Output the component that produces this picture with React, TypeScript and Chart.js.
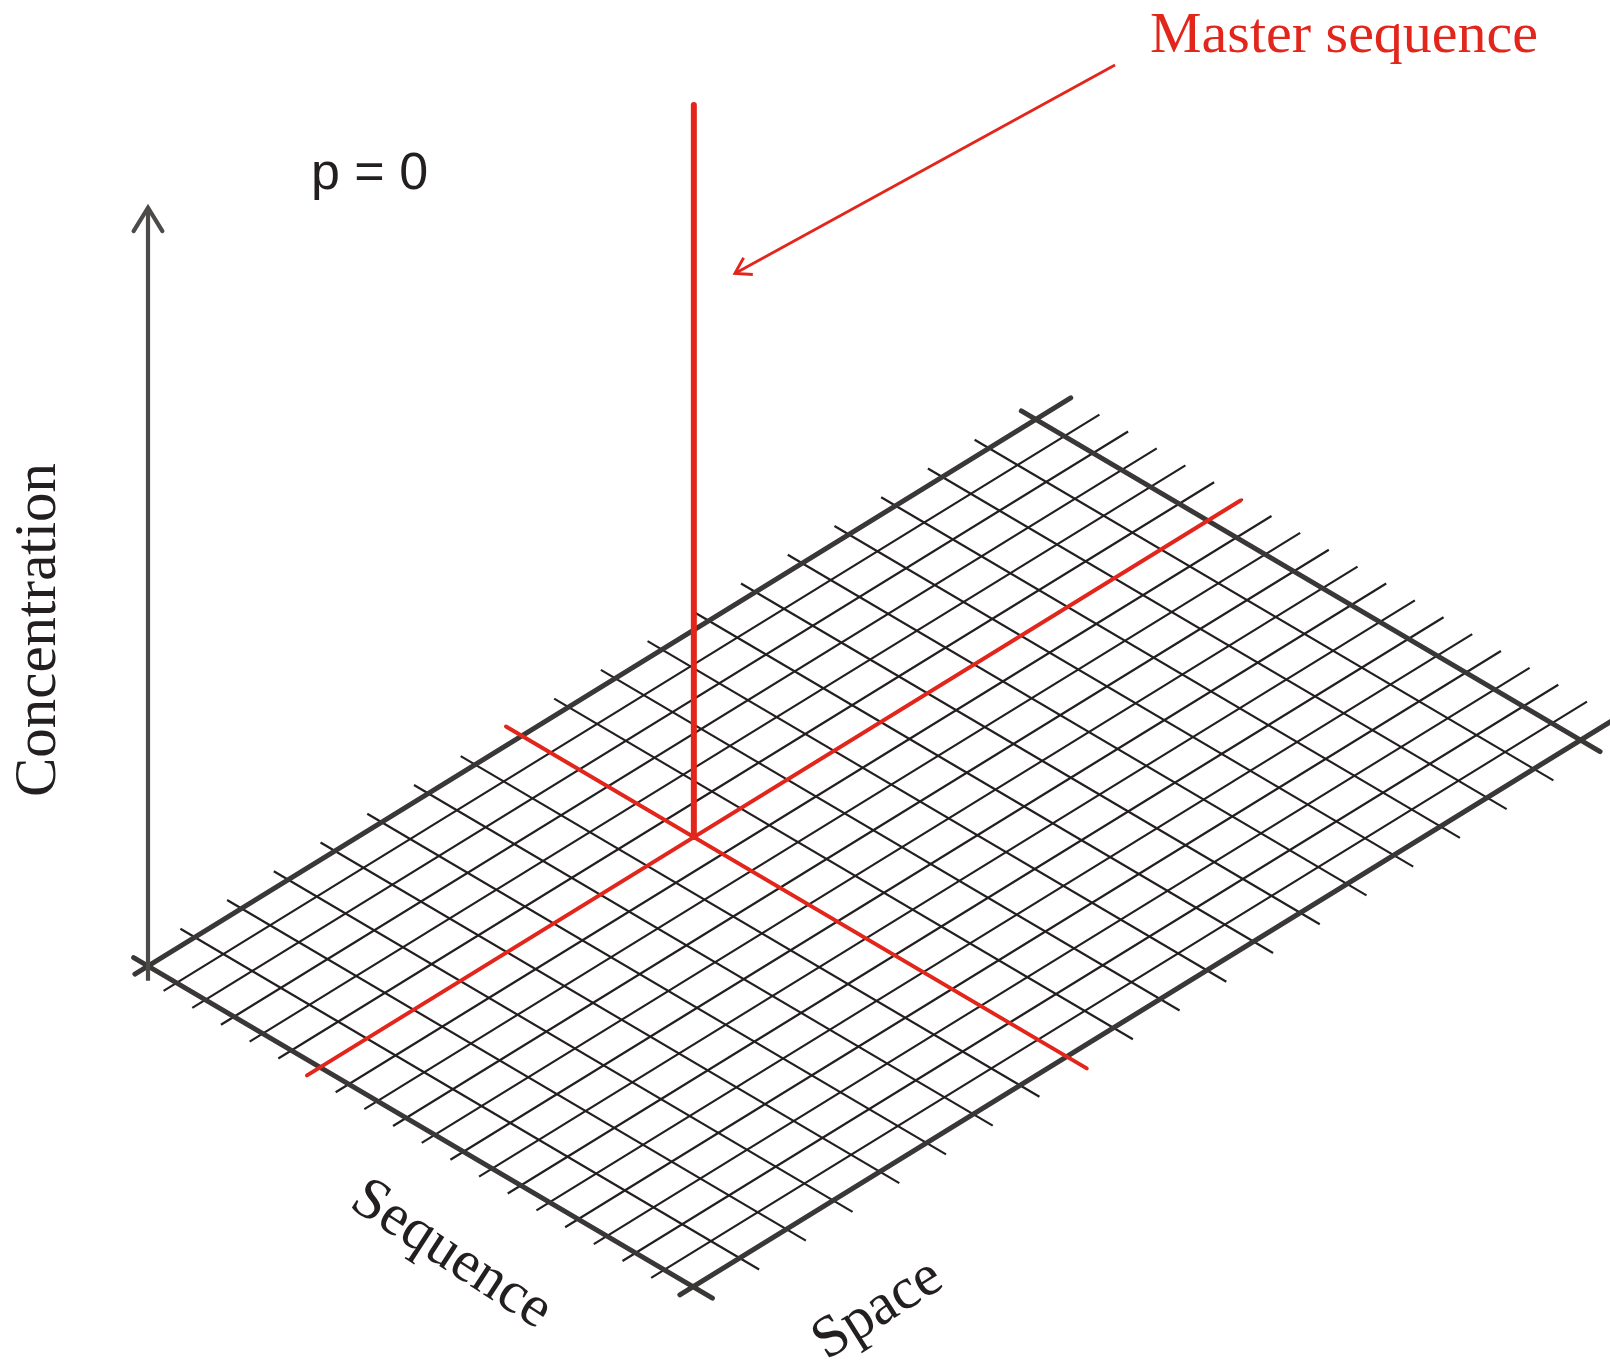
import React, { useEffect, useRef } from "react";
import { Chart, registerables } from "chart.js";

Chart.register(...registerables);

// ---------------- data ----------------
const sequenceIndex = [0, 1, 2, 3, 4, 5, 6, 7, 8, 9, 10, 11, 12, 13, 14, 15, 16, 17, 18, 19];
const spaceIndex = [0, 1, 2, 3, 4, 5, 6, 7, 8, 9, 10, 11, 12, 13, 14, 15, 16, 17, 18, 19];
const masterSequence = [6];
const masterSpace = [8];
const masterConcentration = [1.0];
const concentrationAxis = [-0.02, 1.036];
const mutationRate = ["p = 0"];
const axisTitles = ["Sequence", "Space", "Concentration"];
const calloutText = ["Master sequence"];

// ---------------- layout / projection (pixel space) ----------------
const W = 1610;
const H = 1362;
const ORIGIN = { x: 148, y: 966 };
const U = { x: 28.68, y: 16.88 }; // one sequence step
const V = { x: 46.72, y: -28.77 }; // one space step
const ZPX = 732; // pixels per unit concentration
const SEQ_EXT = [-0.5, 0.68];
const SPACE_EXT = [-0.28, 0.75];

const RED = "#e2261c";
const INK = "#231f20";
const EDGE = "#3a3737";
const AXIS = "#4d4a4a";

function project(s: number, t: number, z: number) {
  return {
    x: ORIGIN.x + s * U.x + t * V.x,
    y: ORIGIN.y + s * U.y + t * V.y - z * ZPX,
  };
}

function seg(points: { x: number; y: number }[], color: string, width: number, order: number, cap = "butt") {
  return {
    type: "line" as const,
    data: points,
    borderColor: color,
    backgroundColor: color,
    borderWidth: width,
    borderCapStyle: cap,
    borderJoinStyle: "miter",
    pointRadius: 0,
    pointHoverRadius: 0,
    showLine: true,
    fill: false,
    tension: 0,
    order,
    clip: false,
  };
}

function arrowHead(tip: { x: number; y: number }, from: { x: number; y: number }, len: number, halfDeg: number) {
  const a = Math.atan2(from.y - tip.y, from.x - tip.x);
  const h = (halfDeg * Math.PI) / 180;
  return [
    { x: tip.x + len * Math.cos(a + h), y: tip.y + len * Math.sin(a + h) },
    { x: tip.x, y: tip.y },
    { x: tip.x + len * Math.cos(a - h), y: tip.y + len * Math.sin(a - h) },
  ];
}

function buildDatasets() {
  const ds: any[] = [];
  const sMax = sequenceIndex[sequenceIndex.length - 1];
  const tMax = spaceIndex[spaceIndex.length - 1];
  const sLo = sequenceIndex[0] + SEQ_EXT[0];
  const sHi = sMax + SEQ_EXT[1];
  const tLo = spaceIndex[0] + SPACE_EXT[0];
  const tHi = tMax + SPACE_EXT[1];

  // lines of constant sequence (run along space)
  sequenceIndex.forEach((s) => {
    const edge = s === sequenceIndex[0] || s === sMax;
    ds.push(
      seg([project(s, tLo, 0), project(s, tHi, 0)], edge ? EDGE : INK, edge ? 5 : 2.2, edge ? 5 : 6, edge ? "round" : "butt")
    );
  });
  // lines of constant space (run along sequence)
  spaceIndex.forEach((t) => {
    const edge = t === spaceIndex[0] || t === tMax;
    ds.push(
      seg([project(sLo, t, 0), project(sHi, t, 0)], edge ? EDGE : INK, edge ? 5 : 2.2, edge ? 5 : 6, edge ? "round" : "butt")
    );
  });

  // master sequence cross lines
  const ms = masterSequence[0];
  const mt = masterSpace[0];
  ds.push(seg([project(ms, tLo, 0), project(ms, tMax + 0.7, 0)], RED, 4, 3, "round"));
  ds.push(seg([project(sLo - 0.05, mt, 0), project(sMax + 0.7, mt, 0)], RED, 4, 3, "round"));

  // concentration spike
  ds.push(seg([project(ms, mt, 0), project(ms, mt, masterConcentration[0])], RED, 6, 2, "round"));

  // concentration axis with arrow
  const axBottom = project(0, 0, concentrationAxis[0]);
  const axTop = project(0, 0, concentrationAxis[1]);
  ds.push(seg([axBottom, axTop], AXIS, 4.2, 1));
  ds.push(seg(arrowHead(axTop, axBottom, 27.5, 31.5), AXIS, 4.2, 1, "round"));

  // callout arrow pointing at the spike
  const spikeRef = project(ms, mt, 0.77);
  const tip = { x: spikeRef.x + 41, y: spikeRef.y };
  const start = { x: 1115, y: 65 };
  ds.push(seg([start, tip], RED, 2.8, 1));
  ds.push(seg(arrowHead(tip, start, 18, 32), RED, 2.8, 1));
  return ds;
}

const textPlugin = {
  id: "diagramText",
  afterDatasetsDraw(chart: any) {
    const ctx = chart.ctx as CanvasRenderingContext2D;
    const xs = chart.scales.x;
    const ys = chart.scales.y;
    const P = (x: number, y: number) => ({ x: xs.getPixelForValue(x), y: ys.getPixelForValue(y) });
    const draw = (
      text: string,
      pos: { x: number; y: number },
      font: string,
      color: string,
      angle: number,
      align: CanvasTextAlign,
      base: CanvasTextBaseline
    ) => {
      const p = P(pos.x, pos.y);
      ctx.save();
      ctx.translate(p.x, p.y);
      ctx.rotate((angle * Math.PI) / 180);
      ctx.font = font;
      ctx.fillStyle = color;
      ctx.textAlign = align;
      ctx.textBaseline = base;
      ctx.fillText(text, 0, 0);
      ctx.restore();
    };
    draw(calloutText[0], { x: 1150, y: 52 }, "58px 'Liberation Serif'", RED, 0, "left", "alphabetic");
    draw(mutationRate[0], { x: 311, y: 189 }, "52px 'Liberation Sans'", INK, 0, "left", "alphabetic");
    draw(axisTitles[2], { x: 55, y: 630 }, "59px 'Liberation Serif'", INK, -90, "center", "alphabetic");
    draw(axisTitles[0], { x: 451, y: 1255 }, "59px 'Liberation Serif'", INK, 33, "center", "middle");
    draw(axisTitles[1], { x: 878, y: 1310 }, "59px 'Liberation Serif'", INK, -32, "center", "middle");
  },
};

export default function App() {
  const ref = useRef<HTMLCanvasElement | null>(null);
  useEffect(() => {
    if (!ref.current) return;
    const chart = new Chart(ref.current, {
      type: "scatter",
      data: { datasets: buildDatasets() },
      options: {
        responsive: false,
        maintainAspectRatio: false,
        devicePixelRatio: 1,
        animation: false,
        layout: { padding: 0 },
        plugins: { legend: { display: false }, tooltip: { enabled: false } },
        events: [],
        scales: {
          x: { type: "linear", display: false, min: 0, max: W },
          y: { type: "linear", display: false, min: 0, max: H, reverse: true },
        },
      } as any,
      plugins: [textPlugin],
    } as any);
    return () => chart.destroy();
  }, []);
  return (
    <div style={{ position: "absolute", left: 0, top: 0, width: W, height: H, background: "#fff" }}>
      <canvas ref={ref} width={W} height={H} style={{ display: "block", width: W, height: H }} />
    </div>
  );
}
